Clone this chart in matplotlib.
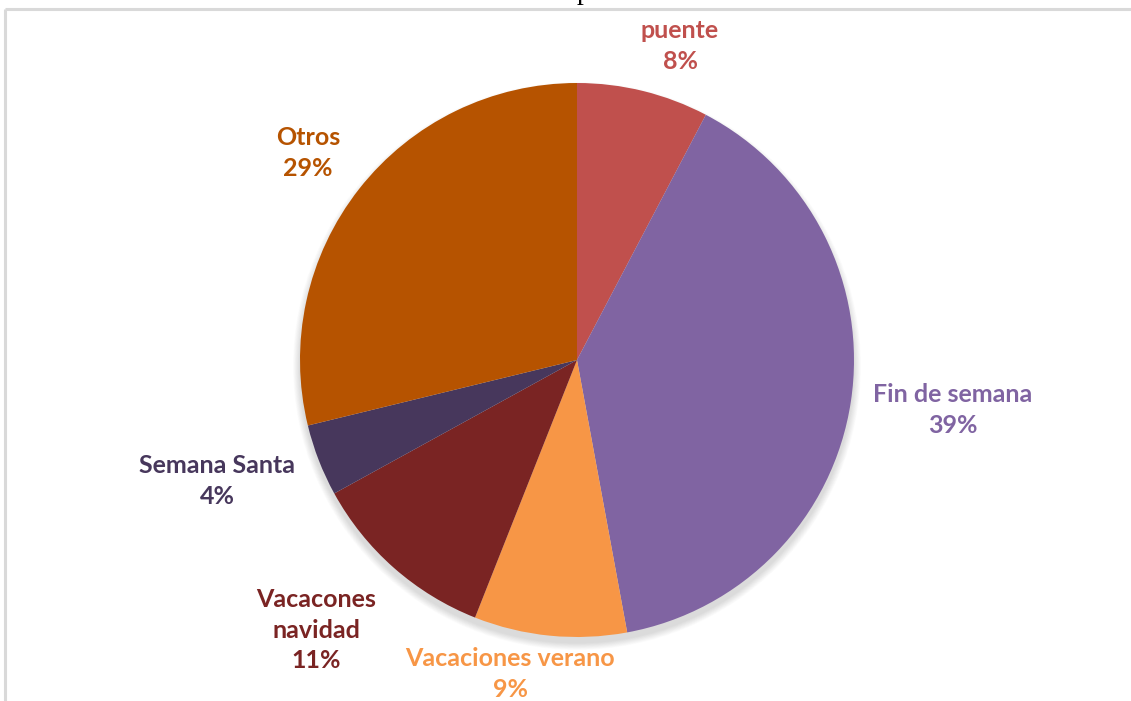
import matplotlib
matplotlib.use("Agg")
import matplotlib.pyplot as plt
from matplotlib.patches import Ellipse

# ---- data ----
categories = ["puente", "Fin de semana", "Vacaciones verano", "Vacacones\nnavidad",
              "Semana Santa", "Otros"]
values = [7.7, 39.4, 8.9, 11.0, 4.2, 28.8]
colors = ["#C0504D", "#8064A2", "#F79646", "#7A2423", "#47375C", "#B65300"]

# ---- layout (pixel coords, origin top-left) ----
W, H = 1131, 701
center_px = (577, 360)
radius_px = 277
label_pos_px = [(680, 46), (953, 410), (510, 674), (316, 630), (217, 481), (308, 153)]

fig = plt.figure(figsize=(W / 100, H / 100), dpi=100)
ax = fig.add_axes([0, 0, 1, 1])

cx, cy = center_px[0], H - center_px[1]

# soft shadow
for i in range(12):
    ax.add_patch(Ellipse((cx, cy - 6), 2 * radius_px + 14 - i * 1.2, 2 * radius_px + 14 - i * 1.2,
                         facecolor="#000000", alpha=0.012, edgecolor="none", zorder=1))

ax.pie(values, colors=colors, startangle=90, counterclock=False,
       center=(cx, cy), radius=radius_px, frame=True,
       wedgeprops=dict(edgecolor="none", linewidth=0, zorder=2))
ax.set_xlim(0, W)
ax.set_ylim(0, H)
ax.set_aspect("equal")
ax.axis("off")

total = sum(values)
for cat, v, col, (lx, ly) in zip(categories, values, colors, label_pos_px):
    txt = f"{cat}\n{round(v / total * 100):d}%"
    ax.text(lx, H - ly, txt, ha="center", va="center", color=col,
            fontsize=18, fontweight="bold", family=["Lato", "DejaVu Sans"],
            linespacing=1.42, zorder=5)

# chart area frame (top and left edges visible)
ax.plot([5, W], [H - 9, H - 9], color="#D9D9D9", lw=2.2, solid_capstyle="butt", zorder=6)
ax.plot([5, 5], [H - 9, 0], color="#D9D9D9", lw=2.2, solid_capstyle="butt", zorder=6)

# clipped title glyph at very top
fig.text(584 / W, 1 + 1 / H, "p", ha="center", va="baseline", color="black",
         fontsize=20, family="Liberation Serif")

fig.savefig("out.png", dpi=100, facecolor="white")
